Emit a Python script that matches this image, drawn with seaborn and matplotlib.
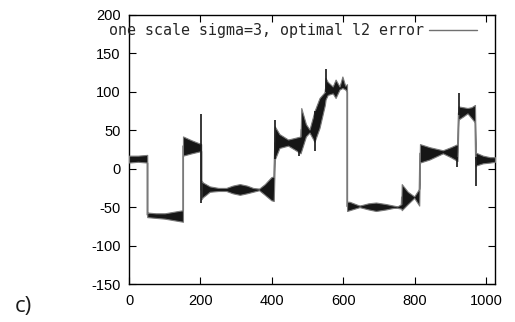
import numpy as np
import pandas as pd
import matplotlib
matplotlib.use("Agg")
import matplotlib.pyplot as plt
import seaborn as sns
from matplotlib.font_manager import FontProperties

# ---- data (envelope of the overlaid estimates) ----
x_knots = [0, 25, 51,
           51, 75, 100, 125, 151,
           151, 175, 202,
           202, 207, 226, 250, 272, 290, 310, 330, 347, 364, 380, 398, 405,
           408, 421, 445, 463, 480,
           482, 495, 505, 519, 533, 548,
           550, 556, 570, 578, 589, 597, 605, 610,
           610, 617, 645, 670, 691, 719, 740, 751, 762,
           763, 780, 798, 812,
           814, 841, 878, 900, 919,
           922, 935, 947, 958, 968,
           970, 990, 1010, 1024]
band_lo = [8, 9, 8,
           -63, -64, -65, -67, -69,
           17, 20, 23,
           -40, -37, -30, -29, -29, -32, -34, -32, -30, -28, -34, -41, -42,
           12, 27, 30, 25, 20,
           23, 42, 47, 35, 53, 83,
           90, 96, 98, 92, 103, 105, 103, 100,
           -55, -54, -50, -53, -55, -53, -51, -51, -52,
           -54, -46, -38, -48,
           8, 12, 20, 15, 10,
           64, 68, 72, 66, 60,
           4, 7, 8, 9]
band_hi = [17, 17, 18,
           -57, -58, -58, -56, -54,
           42, 37, 32,
           -15, -18, -23, -25, -25, -22, -20, -22, -25, -26, -20, -11, -10,
           55, 45, 38, 40, 42,
           79, 58, 51, 75, 92, 100,
           118, 113, 107, 116, 107, 120, 108, 110,
           -43, -43, -48, -45, -44, -46, -48, -49, -46,
           -20, -30, -36, -26,
           32, 28, 24, 28, 32,
           81, 80, 79, 80, 83,
           21, 17, 15, 15]

spike_x = [202, 409, 476, 520, 550, 919, 923, 970]
spike_lo = [-45, 12, 17, 23, 100, 2, 70, -22]
spike_hi = [71, 64, 35, 75, 130, 15, 98, 15]

x_ticks = [0, 200, 400, 600, 800, 1000]
y_ticks = [-150, -100, -50, 0, 50, 100, 150, 200]
y_tick_labels = ["-150", "-100", "-50", "0", "50", "100", "150", "200"]
legend_label = "one scale sigma=3, optimal l2 error"

df = pd.DataFrame({"x": x_knots, "lo": band_lo, "hi": band_hi})
df["mid"] = (df["lo"] + df["hi"]) / 2.0

sns.set_style("ticks")
plt.rcParams["font.family"] = ["Liberation Sans", "DejaVu Sans"]

fig = plt.figure(figsize=(5.15, 3.22), dpi=100)
ax = fig.add_axes([129 / 515, 1 - 284 / 322, 366 / 515, 269 / 322])

sns.lineplot(data=df, x="x", y="mid", estimator=None, sort=False, ax=ax,
             color="#707070", linewidth=1.0, label=legend_label, zorder=2)
ax.fill_between(df["x"], df["lo"], df["hi"], facecolor="#161616",
                edgecolor="#7a7a7a", linewidth=0.8, zorder=3)
ax.vlines(spike_x, spike_lo, spike_hi, color="#161616", linewidth=1.2, zorder=3)

ax.set_xlim(0, 1024)
ax.set_ylim(-150, 200)
ax.set_xticks(x_ticks)
ax.set_yticks(y_ticks)
ax.set_yticklabels(y_tick_labels)
ax.set_xlabel("")
ax.set_ylabel("")
for s in ax.spines.values():
    s.set_visible(True)
    s.set_linewidth(1.0)
    s.set_color("black")
ax.tick_params(direction="in", length=5, width=0.8, top=True, right=True,
               labelsize=10.5, colors="black", pad=6)
ax.tick_params(axis="x", pad=7)

ax.legend(loc="center right", bbox_to_anchor=(0.951, 0.943), borderaxespad=0,
          borderpad=0, markerfirst=False, handlelength=3.2, handletextpad=0.35,
          frameon=False, prop=FontProperties(family="DejaVu Sans Mono", size=10.8))

fig.text(15 / 515, 1 - 312 / 322, "c)", ha="left", va="baseline",
         family=["Open Sans", "DejaVu Sans"], fontsize=16, color="#1a1a1a")

fig.savefig("out.png", dpi=100)
